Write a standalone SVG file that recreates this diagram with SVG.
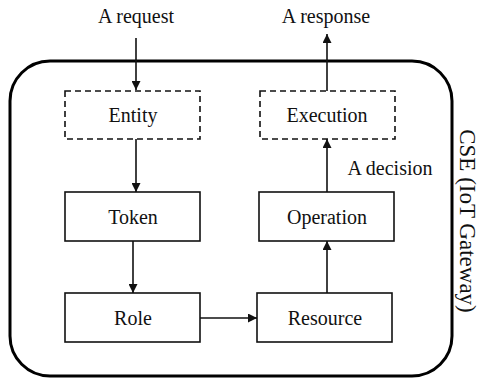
<svg xmlns="http://www.w3.org/2000/svg" width="481" height="379" viewBox="0 0 481 379">
<style>
text{font-family:"Liberation Serif","Times New Roman",serif;font-size:20px;fill:#111;text-anchor:middle}
.box{fill:#fff;stroke:#111;stroke-width:1.6}
.dash{stroke-dasharray:6,4}
.c{stroke:#111;stroke-width:1.6;fill:none;marker-end:url(#ah)}
</style>
<defs>
<marker id="ah" viewBox="0 0 10 10" refX="10" refY="5" markerWidth="10" markerHeight="9" markerUnits="userSpaceOnUse" orient="auto">
<path d="M0,0 L10,5 L0,10 z" fill="#111"/>
</marker>
</defs>
<g id="cse">
<rect x="10" y="61" width="442" height="315" rx="40" ry="40" fill="none" stroke="#000" stroke-width="3"/>
<text transform="translate(460,221) rotate(90)" style="font-size:23px">CSE (IoT Gateway)</text>
</g>
<g id="entity"><rect class="box dash" x="65" y="91" width="135" height="48"/><text x="133" y="122">Entity</text></g>
<g id="execution"><rect class="box dash" x="260" y="91" width="135" height="48"/><text x="327" y="122">Execution</text></g>
<g id="token"><rect class="box" x="65" y="192" width="135" height="49"/><text x="133" y="224">Token</text></g>
<g id="operation"><rect class="box" x="259" y="192" width="135" height="49"/><text x="327" y="224">Operation</text></g>
<g id="role"><rect class="box" x="65" y="293" width="135" height="49"/><text x="133" y="325">Role</text></g>
<g id="resource"><rect class="box" x="257" y="293" width="135" height="49"/><text x="325" y="325">Resource</text></g>
<g id="connectors">
<path class="c" d="M136,38 L136,90"/>
<path class="c" d="M327,91 L327,34"/>
<path class="c" d="M136,139 L136,192"/>
<path class="c" d="M133,241 L133,293"/>
<path class="c" d="M200,318 L257,318"/>
<path class="c" d="M327,293 L327,241"/>
<path class="c" d="M327,192 L327,139"/>
</g>
<text x="136" y="23">A request</text>
<text x="326" y="23">A response</text>
<text x="390" y="175">A decision</text>
</svg>
